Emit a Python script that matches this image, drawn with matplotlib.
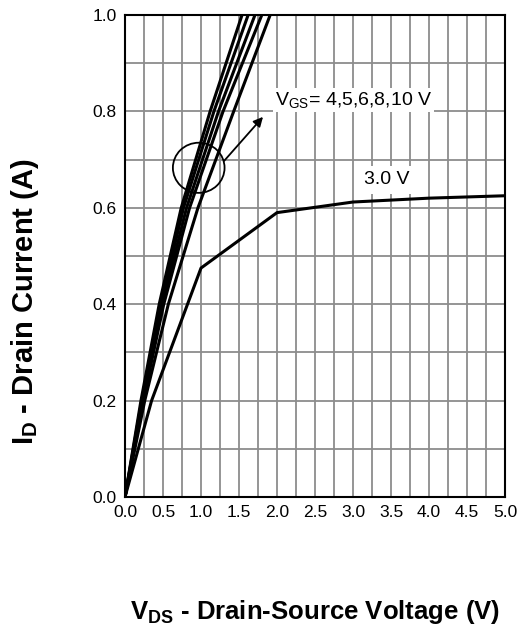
import matplotlib
matplotlib.use("Agg")
import matplotlib.pyplot as plt
from matplotlib.patches import Ellipse

plt.rcParams['font.family'] = ['Liberation Sans', 'DejaVu Sans']
plt.rcParams['mathtext.default'] = 'regular'

# curves: drain current (A) vs drain-source voltage (V)
id_on = [0, 0.2, 0.4, 0.6, 0.8, 1.0]
vds_10v = [0, 0.21, 0.45, 0.74, 1.12, 1.54]
vds_8v = [0, 0.22, 0.47, 0.77, 1.17, 1.62]
vds_6v = [0, 0.23, 0.49, 0.81, 1.23, 1.71]
vds_5v = [0, 0.24, 0.51, 0.85, 1.29, 1.80]
vds_4v = [0, 0.26, 0.57, 0.96, 1.43, 1.91]

vds_3v = [0, 0.35, 1.0, 2.0, 3.0, 4.0, 5.0]
id_3v = [0, 0.2, 0.475, 0.59, 0.612, 0.62, 0.625]

xticks = [0.0, 0.5, 1.0, 1.5, 2.0, 2.5, 3.0, 3.5, 4.0, 4.5, 5.0]
yticks = [0.0, 0.2, 0.4, 0.6, 0.8, 1.0]

fig = plt.figure(figsize=(5.2, 6.33), dpi=100)
ax = fig.add_axes([125/520, 1-497/633, 380/520, 482/633])

# grid first
for i in range(1, 20):
    ax.axvline(i*0.25, color='#8c8c8c', lw=1.3, zorder=1)
for j in range(1, 10):
    ax.axhline(j*0.1, color='#8c8c8c', lw=1.3, zorder=1)

for v in [vds_10v, vds_8v, vds_6v, vds_5v, vds_4v]:
    ax.plot(v, id_on, color='black', lw=2.2, zorder=3)
ax.plot(vds_3v, id_3v, color='black', lw=2.2, zorder=3)

ax.add_patch(Ellipse((0.97, 0.683), 0.68, 0.104, fill=False, color='black', lw=1.3, zorder=4))
ax.annotate('', xy=(1.84, 0.793), xytext=(1.28, 0.693),
            arrowprops=dict(arrowstyle='-|>', color='black', lw=1.3, mutation_scale=14), zorder=4)

ax.text(1.97, 0.824, r'V$_{GS}$= 4,5,6,8,10 V', fontsize=14, va='center', ha='left',
        bbox=dict(facecolor='white', edgecolor='none', pad=1.5), zorder=5)
ax.text(3.45, 0.658, '3.0 V', fontsize=14, va='center', ha='center',
        bbox=dict(facecolor='white', edgecolor='none', pad=4), zorder=5)

ax.set_xlim(0, 5)
ax.set_ylim(0, 1)
ax.set_xticks(xticks)
ax.set_xticklabels(['%.1f' % t for t in xticks], fontsize=12.5)
ax.set_yticks(yticks)
ax.set_yticklabels(['%.1f' % t for t in yticks], fontsize=12.5)
ax.tick_params(length=0, pad=6)
for s in ax.spines.values():
    s.set_linewidth(1.5)
    s.set_zorder(6)

fig.text(25/520, 1-302/633, r'I$_D$ - Drain Current (A)', rotation=90, fontsize=21,
         fontweight='bold', ha='center', va='center')
fig.text(130/520, 1-612/633, r'V$_{DS}$ - Drain-Source Voltage (V)', fontsize=18.5,
         fontweight='bold', ha='left', va='center')

fig.savefig('out.png', dpi=100)
